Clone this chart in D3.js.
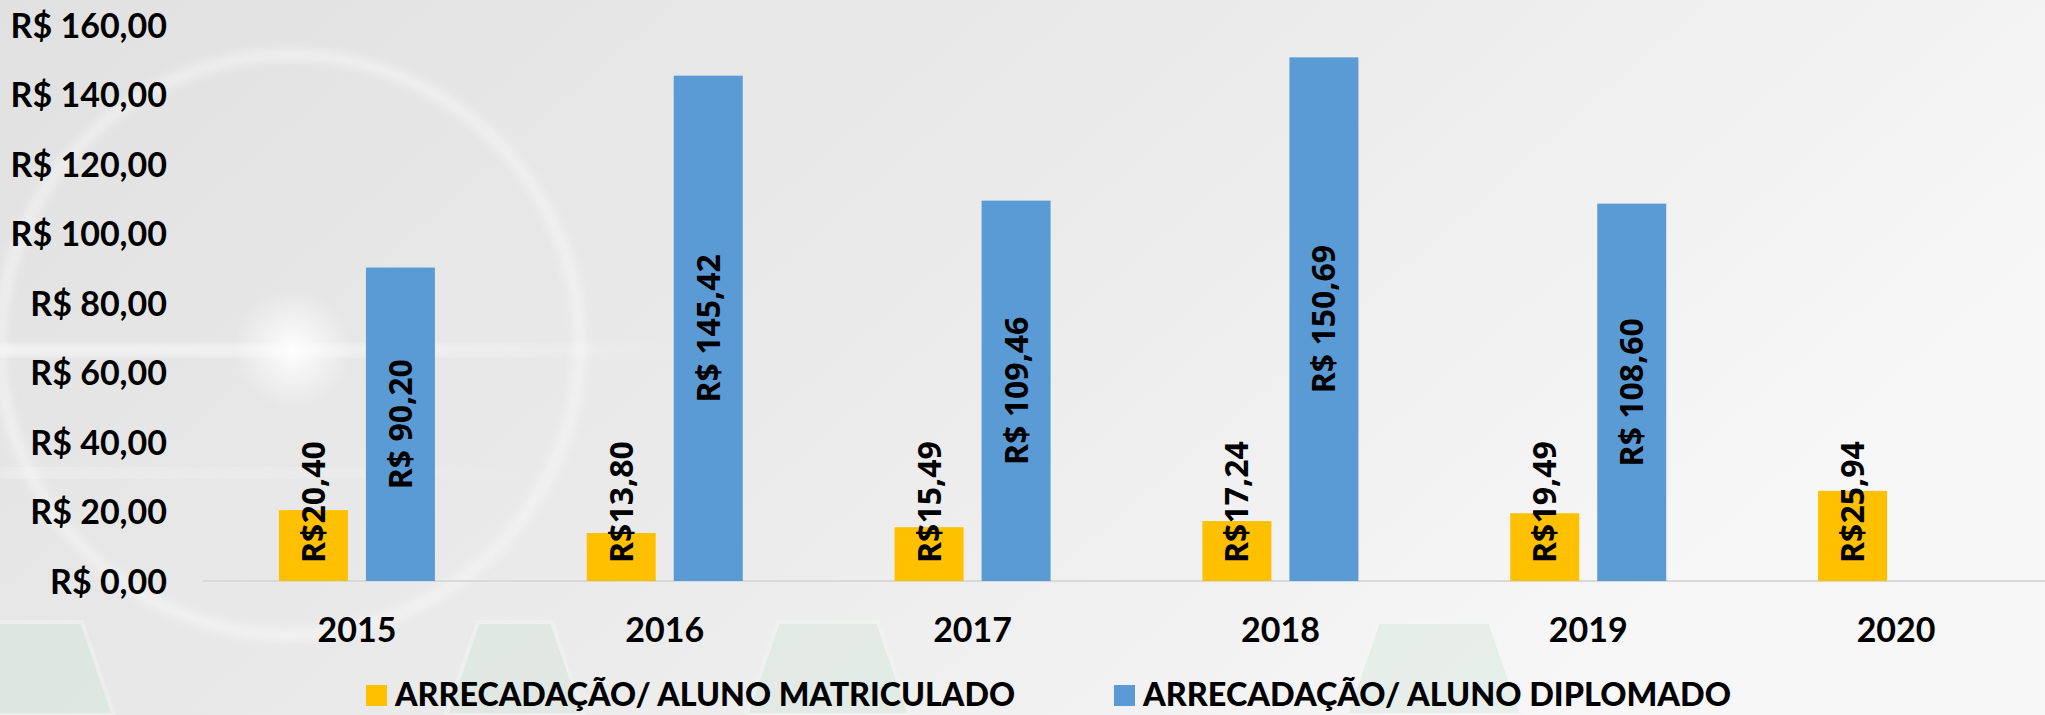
<!DOCTYPE html>
<html>
<head>
<meta charset="utf-8">
<script src="https://cdn.jsdelivr.net/npm/d3@7"></script>
<style>
  html, body { margin: 0; padding: 0; overflow: hidden; background: #ececec; }
</style>
</head>
<body>
<div id="container"></div>
<script>
/**
 * DATA
 * */
const years = ["2015", "2016", "2017", "2018", "2019", "2020"];
const matriculado = [20.40, 13.80, 15.49, 17.24, 19.49, 25.94];
const diplomado = [90.20, 145.42, 109.46, 150.69, 108.60, null];
const seriesNames = ["ARRECADAÇÃO/ ALUNO MATRICULADO", "ARRECADAÇÃO/ ALUNO DIPLOMADO"];
const seriesColors = ["#FFC000", "#5B9BD5"];
const yTicks = [0, 20, 40, 60, 80, 100, 120, 140, 160];

/**
 * CONSTANTS
 * */
const width = 2045,
  height = 715,
  margin = { top: 25, bottom: 134, left: 203, right: -5 };

const ptBR = d3.formatLocale({ decimal: ",", thousands: ".", grouping: [3], currency: ["R$ ", ""] });
const fmt = ptBR.format(",.2f");

const axisFont = "Lato, 'Open Sans', sans-serif";
const labelFont = "'Open Sans', 'Noto Sans', sans-serif";

const svg = d3.select("#container")
  .append("svg")
  .attr("width", width)
  .attr("height", height);

// slide background
const defs = svg.append("defs");
const bg = defs.append("linearGradient").attr("id", "bg")
  .attr("x1", "0").attr("y1", "0").attr("x2", "1").attr("y2", "0.4");
bg.append("stop").attr("offset", "0%").attr("stop-color", "#e1e1e1");
bg.append("stop").attr("offset", "55%").attr("stop-color", "#ebebeb");
bg.append("stop").attr("offset", "100%").attr("stop-color", "#f7f7f7");

const glow = defs.append("radialGradient").attr("id", "glow");
glow.append("stop").attr("offset", "0%").attr("stop-color", "#ffffff").attr("stop-opacity", 0.95);
glow.append("stop").attr("offset", "45%").attr("stop-color", "#ffffff").attr("stop-opacity", 0.5);
glow.append("stop").attr("offset", "100%").attr("stop-color", "#ffffff").attr("stop-opacity", 0);

const streak = defs.append("linearGradient").attr("id", "streak");
streak.append("stop").attr("offset", "0%").attr("stop-color", "#fff").attr("stop-opacity", 0.6);
streak.append("stop").attr("offset", "60%").attr("stop-color", "#fff").attr("stop-opacity", 0.4);
streak.append("stop").attr("offset", "100%").attr("stop-color", "#fff").attr("stop-opacity", 0);

defs.append("filter").attr("id", "blur").append("feGaussianBlur").attr("stdDeviation", 4);

svg.append("rect").attr("width", width).attr("height", height).attr("fill", "url(#bg)");

const deco = svg.append("g").attr("class", "deco");
// pale green hexagon pieces at the bottom
const hex = [[456, 574], [756, 900], [1356, 1512], [-40, 104]];
deco.selectAll("path.hex")
  .data(hex)
  .join("path")
  .attr("class", "hex")
  .attr("d", d => `M${d[0] + 22},622 L${d[1] - 22},622 L${d[1] + 10},715 L${d[0] - 10},715 Z`)
  .attr("fill", "#d3e6db")
  .attr("opacity", 0.4)
  .attr("stroke", "#f4f8f5")
  .attr("stroke-width", 4);

deco.append("circle")
  .attr("cx", 290).attr("cy", 345).attr("r", 290)
  .attr("fill", "none")
  .attr("stroke", "#fff")
  .attr("stroke-opacity", 0.4)
  .attr("stroke-width", 12)
  .attr("filter", "url(#blur)");
deco.append("rect").attr("x", 0).attr("y", 344).attr("width", 700).attr("height", 12)
  .attr("fill", "url(#streak)").attr("filter", "url(#blur)");
deco.append("rect").attr("x", 0).attr("y", 468).attr("width", 560).attr("height", 10)
  .attr("fill", "url(#streak)").attr("opacity", 0.5).attr("filter", "url(#blur)");
deco.append("circle").attr("cx", 293).attr("cy", 350).attr("r", 60).attr("fill", "url(#glow)");

/**
 * SCALES
 * */
const x = d3.scaleBand()
  .domain(years)
  .range([margin.left, width - margin.right]);

const xSub = d3.scaleBand()
  .domain([0, 1])
  .range([x.bandwidth() / 2 - 78, x.bandwidth() / 2 + 78])
  .paddingInner(0.207);

const y = d3.scaleLinear()
  .domain([0, 160])
  .range([height - margin.bottom, margin.top]);

/**
 * AXES
 * */
svg.append("g")
  .attr("class", "y-axis")
  .attr("transform", `translate(${margin.left},0)`)
  .call(d3.axisLeft(y).tickValues(yTicks).tickSize(0).tickPadding(36)
    .tickFormat(d => "R$ " + fmt(d)))
  .call(g => g.select(".domain").remove())
  .selectAll("text")
  .attr("dy", "0.36em")
  .style("font-family", axisFont)
  .style("font-weight", "bold")
  .style("font-size", "34px")
  .attr("fill", "#000");

svg.append("line")
  .attr("x1", margin.left).attr("x2", width)
  .attr("y1", y(0)).attr("y2", y(0))
  .attr("stroke", "#d9d9d9")
  .attr("stroke-width", 2);

svg.append("g")
  .attr("class", "x-axis")
  .selectAll("text")
  .data(years)
  .join("text")
  .attr("x", d => x(d) + x.bandwidth() / 2)
  .attr("y", y(0) + 61)
  .attr("text-anchor", "middle")
  .style("font-family", axisFont)
  .style("font-weight", "bold")
  .style("font-size", "34px")
  .text(d => d);

/**
 * BARS
 * */
const rows = years.map((yr, i) => ({ year: yr, values: [matriculado[i], diplomado[i]] }));

const groups = svg.selectAll("g.year")
  .data(rows)
  .join("g")
  .attr("class", "year")
  .attr("transform", d => `translate(${x(d.year)},0)`);

const cells = groups.selectAll("g.cell")
  .data(d => d.values.map((v, s) => ({ s, v })).filter(c => c.v != null))
  .join("g")
  .attr("class", "cell");

cells.append("rect")
  .attr("x", d => xSub(d.s))
  .attr("width", xSub.bandwidth())
  .attr("y", d => y(d.v))
  .attr("height", d => y(0) - y(d.v))
  .attr("fill", d => seriesColors[d.s]);

// yellow labels sit at the base, blue ones in the middle of the bar
cells.append("text")
  .attr("transform", d => {
    const cx = xSub(d.s) + xSub.bandwidth() / 2;
    const cy = d.s === 0 ? y(0) - 18 : (y(d.v) + y(0)) / 2;
    return `translate(${cx},${cy}) rotate(-90)`;
  })
  .attr("dy", "0.36em")
  .attr("text-anchor", d => d.s === 0 ? "start" : "middle")
  .style("font-family", labelFont)
  .style("font-weight", "bold")
  .style("font-size", "32px")
  .attr("fill", "#000")
  .text(d => d.s === 0 ? "R$" + fmt(d.v) : "R$ " + fmt(d.v));

/**
 * LEGEND
 * */
const legendX = [366, 1114];
const legendW = [620, 588];
const legend = svg.append("g").attr("class", "legend")
  .selectAll("g")
  .data(seriesNames)
  .join("g")
  .attr("transform", (d, i) => `translate(${legendX[i]},685)`);

legend.append("rect")
  .attr("width", 21).attr("height", 21)
  .attr("fill", (d, i) => seriesColors[i]);

legend.append("text")
  .attr("x", 29)
  .attr("y", 21)
  .attr("textLength", (d, i) => legendW[i])
  .attr("lengthAdjust", "spacingAndGlyphs")
  .style("font-family", axisFont)
  .style("font-weight", 900)
  .style("font-size", "33px")
  .text(d => d);
</script>
</body>
</html>
